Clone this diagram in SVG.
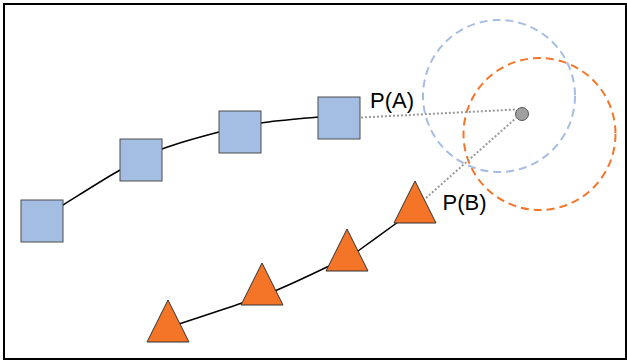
<svg xmlns="http://www.w3.org/2000/svg" width="627" height="361" viewBox="0 0 627 361">
  <style>
    .sq { fill: #a4bde2; stroke: #4d4d4d; stroke-width: 1; }
    .tri { fill: #f47528; stroke: #333333; stroke-width: 1; }
    .curve { fill: none; stroke: #000000; stroke-width: 1.5; }
    .dotted { fill: none; stroke: #999999; stroke-width: 2; stroke-dasharray: 2 2; }
    .lbl { font-family: "Liberation Sans", Arial, sans-serif; font-size: 22px; fill: #000000; }
  </style>
  <rect x="4" y="4" width="622" height="355" fill="#ffffff" stroke="#000000" stroke-width="2"/>
  <g id="ranges">
    <circle cx="499" cy="96" r="76" fill="none" stroke="#a4bde2" stroke-width="2" stroke-dasharray="8 5"/>
    <circle cx="539.5" cy="134" r="76" fill="none" stroke="#f47528" stroke-width="2" stroke-dasharray="8 5"/>
  </g>
  <g id="connectors">
    <path class="curve" d="M 45,217 L 63,205 C 72.5,199.2 103.5,179.3 120,170 C 136.5,160.7 145.5,155.3 162,149 C 178.5,142.7 202.5,136.3 219,132 C 235.5,127.7 244.5,125.5 261,123 C 277.5,120.5 308.5,118 318,117 L 335,116"/>
    <path class="curve" d="M 170,327 L 182,323 C 192,319.7 226.2,308.5 242,303 C 257.8,297.5 262.8,296 277,290 C 291.2,284 313.5,273.5 327,267 C 340.5,260.5 346.2,258.5 358,251 C 369.8,242.5 391.3,226.8 398,222 L 410,212"/>
    <line class="dotted" x1="361" y1="117.5" x2="516" y2="109.5"/>
    <line class="dotted" x1="426" y1="198" x2="516" y2="118"/>
  </g>
  <g id="a1"><rect class="sq" x="21" y="200" width="42" height="42"/></g>
  <g id="a2"><rect class="sq" x="120" y="139" width="42" height="42"/></g>
  <g id="a3"><rect class="sq" x="219" y="111" width="42" height="42"/></g>
  <g id="a4"><rect class="sq" x="318" y="97" width="42" height="42"/></g>
  <g id="b1"><polygon class="tri" points="168,300 189,342 147,342"/></g>
  <g id="b2"><polygon class="tri" points="262,263 283,305 241,305"/></g>
  <g id="b3"><polygon class="tri" points="347,229 368,271 326,271"/></g>
  <g id="b4"><polygon class="tri" points="415,181 436,223 394,223"/></g>
  <g id="target"><circle cx="522" cy="114" r="6.5" fill="#a0a0a0" stroke="#555555" stroke-width="1"/></g>
  <g id="labels">
    <text class="lbl" x="370" y="107.5">P(A)</text>
    <text class="lbl" x="442.5" y="209.5">P(B)</text>
  </g>
</svg>
